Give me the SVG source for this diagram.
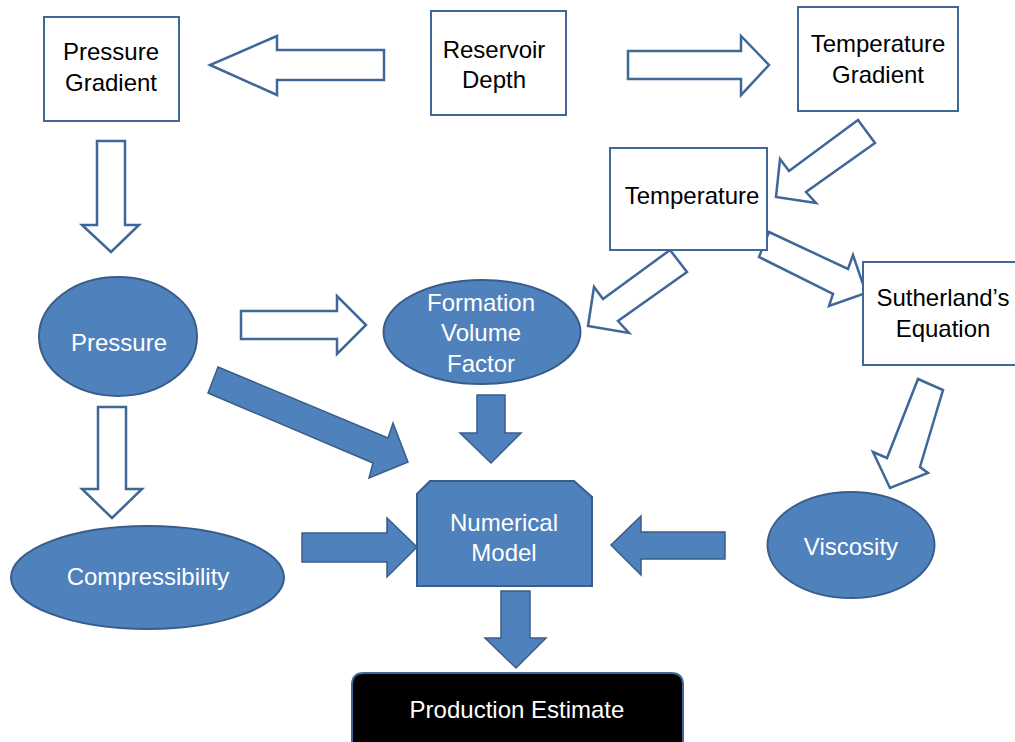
<svg xmlns="http://www.w3.org/2000/svg" width="1015" height="742" viewBox="0 0 1015 742">
<style>
.box{fill:#ffffff;stroke:#3f6797;stroke-width:2}
.ell{fill:#4f81bd;stroke:#385d8a;stroke-width:2}
.hollow{fill:#ffffff;stroke:#3f6797;stroke-width:2.5;stroke-linejoin:miter}
.solid{fill:#4f81bd;stroke:#385d8a;stroke-width:1.5;stroke-linejoin:miter}
.tb{font-family:"Liberation Sans",Arial,sans-serif;font-size:24px;fill:#000000;text-anchor:middle}
.tw{font-family:"Liberation Sans",Arial,sans-serif;font-size:24px;fill:#ffffff;text-anchor:middle}
</style>
<rect width="1015" height="742" fill="#ffffff"/>
<g id="connectors">
<polygon class="hollow" points="384,50 277,50 277,36 210,65 277,95 277,80 384,80"/>
<polygon class="hollow" points="628,51 741,51 741,36 769,65 741,95 741,79 628,79"/>
<polygon class="hollow" points="97,141 125,141 125,225 139,225 111,252 82,225 97,225"/>
<polygon class="hollow" points="858,120 875,143 806,192 816,203 776,197 780,159 789,171"/>
<polygon class="hollow" points="670,250 687,272 618,321 629,333 588,326 594,287 603,299"/>
<polygon class="hollow" points="769,232 848,269 853,255 866,293 829,306 833,294 759,257"/>
<polygon class="hollow" points="918,379 943,390 920,467 928,473 890,488 873,452 887,458"/>
<polygon class="hollow" points="241,311 337,311 337,296 366,325 337,354 337,339 241,339"/>
<polygon class="hollow" points="98,407 126,407 126,489 142,489 112,518 82,489 98,489"/>
<polygon class="solid" points="218,367 388,438 393,423 408,462 369,478 373,463 208,393"/>
<polygon class="solid" points="477,395 505,395 505,433 521,433 491,463 460,433 477,433"/>
<polygon class="solid" points="302,533 387,533 387,518 417,547 387,577 387,562 302,562"/>
<polygon class="solid" points="725,532 641,532 641,516 611,545 641,575 641,559 725,559"/>
<polygon class="solid" points="501,591 530,591 530,638 546,638 516,668 485,638 501,638"/>
</g>
<g id="pressure-gradient">
<rect class="box" x="44" y="17" width="135" height="104"/>
<text class="tb" x="111" y="60">Pressure</text>
<text class="tb" x="111" y="91">Gradient</text>
</g>
<g id="reservoir-depth">
<rect class="box" x="431" y="11" width="135" height="104"/>
<text class="tb" x="494" y="58">Reservoir</text>
<text class="tb" x="494" y="88">Depth</text>
</g>
<g id="temperature-gradient">
<rect class="box" x="798" y="7" width="160" height="104"/>
<text class="tb" x="878" y="52">Temperature</text>
<text class="tb" x="878" y="83">Gradient</text>
</g>
<g id="temperature">
<rect class="box" x="610" y="148" width="157" height="102"/>
<text class="tb" x="692" y="204">Temperature</text>
</g>
<g id="sutherland">
<rect class="box" x="863" y="262" width="160" height="103"/>
<text class="tb" x="943" y="306">Sutherland’s</text>
<text class="tb" x="943" y="337">Equation</text>
</g>
<g id="pressure">
<ellipse class="ell" cx="118" cy="336.5" rx="79" ry="59.5"/>
<text class="tw" x="119" y="351">Pressure</text>
</g>
<g id="fvf">
<ellipse class="ell" cx="482" cy="332" rx="98.5" ry="52"/>
<text class="tw" x="481" y="311">Formation</text>
<text class="tw" x="481" y="341">Volume</text>
<text class="tw" x="481" y="372">Factor</text>
</g>
<g id="compressibility">
<ellipse class="ell" cx="147.5" cy="577.5" rx="136.5" ry="51.5"/>
<text class="tw" x="148" y="585">Compressibility</text>
</g>
<g id="viscosity">
<ellipse class="ell" cx="851" cy="545" rx="83.5" ry="53"/>
<text class="tw" x="851" y="555">Viscosity</text>
</g>
<g id="numerical-model">
<polygon class="ell" points="430,481 574,481 592,497 592,586 417,586 417,494"/>
<text class="tw" x="504" y="531">Numerical</text>
<text class="tw" x="504" y="561">Model</text>
</g>
<g id="production-estimate">
<path d="M352,750 V685 Q352,673 364,673 H671 Q683,673 683,685 V750 Z" fill="#000000" stroke="#3f6797" stroke-width="2"/>
<text class="tw" x="517" y="718">Production Estimate</text>
</g>
</svg>
